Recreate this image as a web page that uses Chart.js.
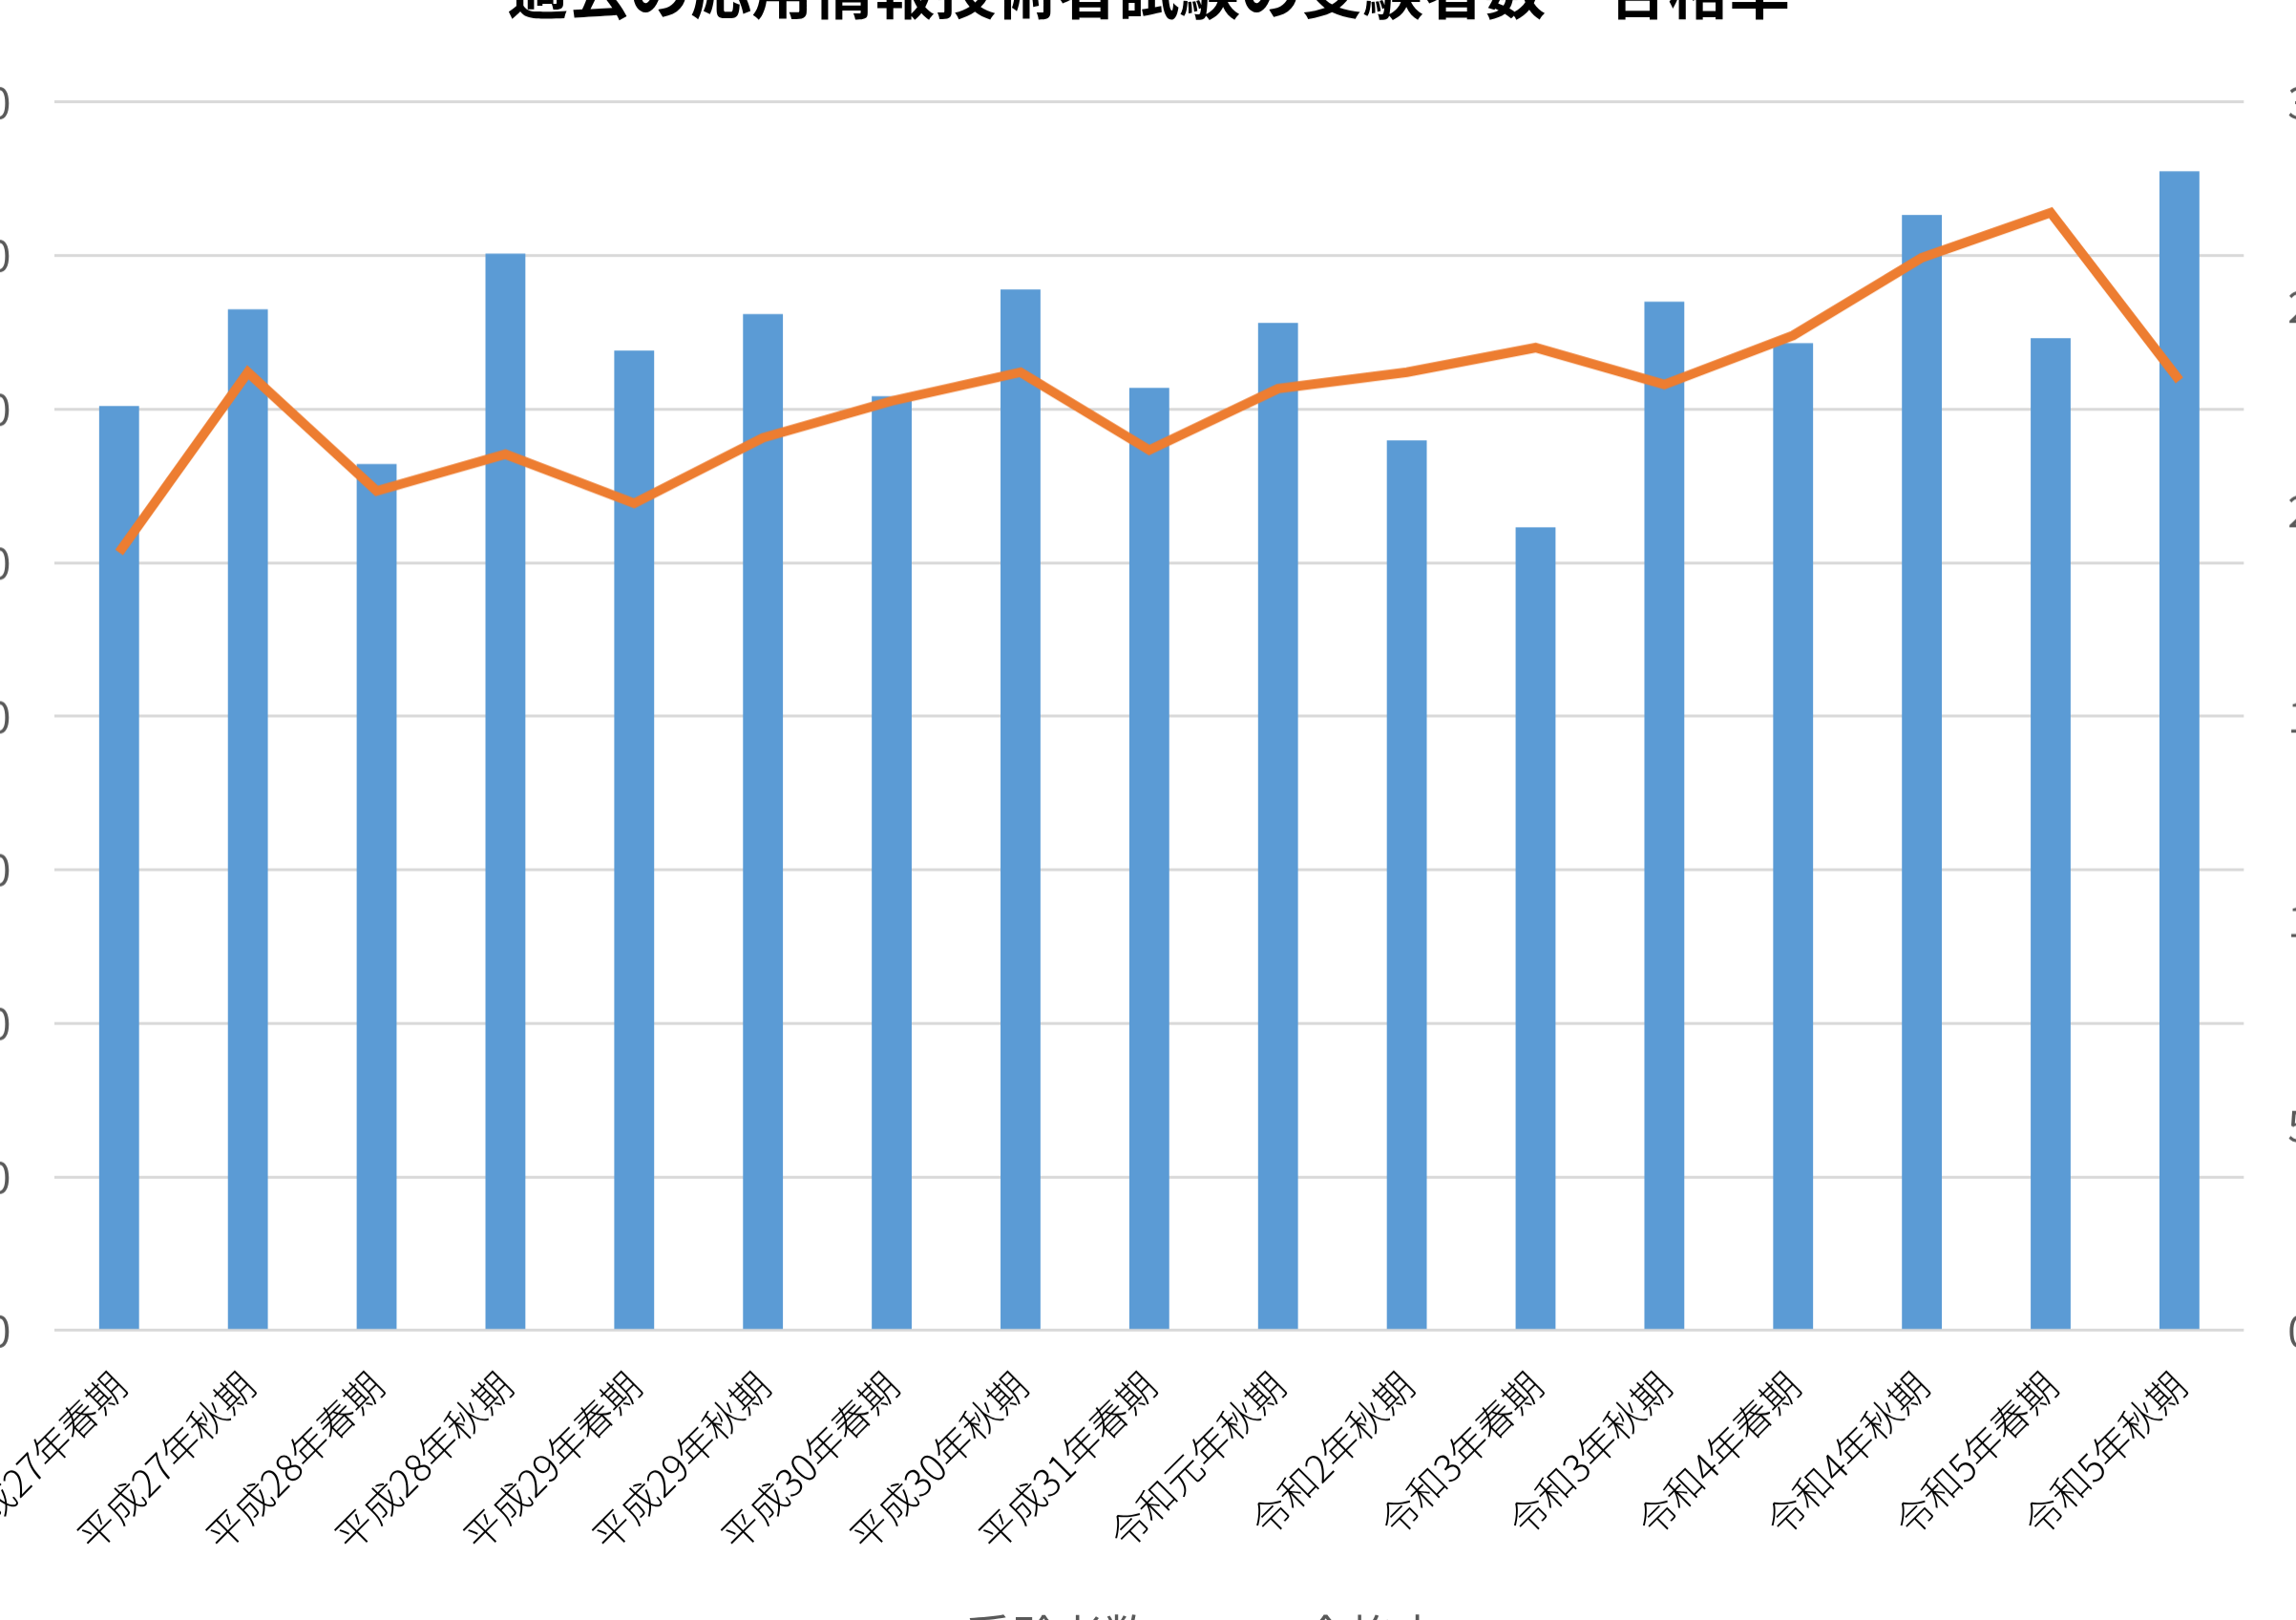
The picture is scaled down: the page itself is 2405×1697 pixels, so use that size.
<!DOCTYPE html>
<html lang="ja">
<head>
<meta charset="utf-8">
<title>過去の応用情報技術者試験の受験者数・合格率</title>
<script src="https://cdn.jsdelivr.net/npm/chart.js@4.4.1/dist/chart.umd.min.js"></script>
<style>
html, body { margin: 0; padding: 0; width: 2405px; height: 1697px; overflow: hidden; background: #fff; }
#wrap { position: absolute; left: 0; top: 0; width: 2700px; height: 1900px; }
</style>
</head>
<body>
<div id="wrap"><canvas id="chart"></canvas></div>
<script>
// 試験回
const periods = [
    '平成27年春期', '平成27年秋期', '平成28年春期', '平成28年秋期',
    '平成29年春期', '平成29年秋期', '平成30年春期', '平成30年秋期',
    '平成31年春期', '令和元年秋期', '令和2年秋期', '令和3年春期',
    '令和3年秋期', '令和4年春期', '令和4年秋期', '令和5年春期', '令和5年秋期'
];

// 受験者数 (人)
const examinees = [
    30100, 33250, 28210, 35060, 31910, 33100, 30420, 33900,
    30690, 32810, 28980, 26150, 33500, 32150, 36320, 32310, 37750
];

// 合格率 (%)
const passRate = [
    19.0, 23.4, 20.5, 21.4, 20.2, 21.8, 22.7, 23.4,
    21.5, 23.0, 23.4, 24.0, 23.1, 24.3, 26.2, 27.3, 23.2
];

// 軸の目盛り
const countMax = 40000;
const countStep = 5000;
const rateMax = 30;
const rateStep = 5;

const BLUE = '#5B9BD5';
const ORANGE = '#ED7D31';

const FONT = "'Noto Sans CJK JP', 'Noto Sans', sans-serif";
Chart.defaults.font.family = FONT;

// 凡例用の四角マーカー（線のマーカーだけ長くするため画像にする）
const legendBox = document.createElement('canvas');
legendBox.width = 30;
legendBox.height = 30;
const lctx = legendBox.getContext('2d');
lctx.fillStyle = BLUE;
lctx.fillRect(0, 0, legendBox.width, legendBox.height);

const canvas = document.getElementById('chart');
const wrap = document.getElementById('wrap');

const chart = new Chart(canvas, {
    data: {
        labels: periods,
        datasets: [
            {
                type: 'bar',
                label: '受験者数',
                data: examinees,
                backgroundColor: BLUE,
                yAxisID: 'y',
                order: 2,
                barPercentage: 0.31,
                categoryPercentage: 1,
                pointStyle: legendBox
            },
            {
                type: 'line',
                label: '合格率',
                data: passRate,
                borderColor: ORANGE,
                backgroundColor: ORANGE,
                borderWidth: 10,
                borderJoinStyle: 'miter',
                pointRadius: 0,
                tension: 0,
                yAxisID: 'y1',
                order: 1,
                pointStyle: 'line'
            }
        ]
    },
    options: {
        animation: false,
        responsive: true,
        maintainAspectRatio: false,
        layout: { padding: 0 },
        plugins: {
            title: {
                display: true,
                text: '過去の応用情報技術者試験の受験者数・合格率',
                color: '#000',
                font: { size: 64, weight: 'bold' },
                padding: { top: 0, bottom: 79 }
            },
            legend: {
                position: 'bottom',
                labels: {
                    color: '#595959',
                    font: { size: 48 },
                    usePointStyle: true,
                    pointStyleWidth: 90,
                    boxHeight: 30,
                    padding: 47,
                    sort: (a, b) => a.datasetIndex - b.datasetIndex
                }
            },
            tooltip: { enabled: false }
        },
        scales: {
            x: {
                offset: true,
                grid: { display: false, drawTicks: false },
                border: { display: false },
                ticks: {
                    color: '#000',
                    font: { size: 40, weight: 300 },
                    minRotation: 45,
                    maxRotation: 45,
                    autoSkip: false,
                    padding: 34
                },
                // 凡例の位置を参照に合わせるため軸の高さを固定
                afterFit: scale => { scale.height = 249; }
            },
            y: {
                position: 'left',
                min: 0,
                max: countMax,
                grid: { color: '#D9D9D9', lineWidth: 3, drawTicks: false },
                border: { display: false },
                ticks: {
                    stepSize: countStep,
                    color: '#595959',
                    font: { size: 44 },
                    padding: 46,
                    callback: v => v.toLocaleString('en-US')
                }
            },
            y1: {
                position: 'right',
                min: 0,
                max: rateMax,
                grid: { display: false, drawTicks: false },
                border: { display: false },
                ticks: {
                    stepSize: rateStep,
                    color: '#595959',
                    font: { size: 44 },
                    padding: 46,
                    callback: v => v + '%'
                },
                // タイトルの中心を少し右へ
                afterFit: scale => { scale.width += 44; }
            }
        }
    }
});

// プロット領域を参照画像と同じ位置・大きさに合わせる（周囲ははみ出して切れる）
const AREA = { left: 57, top: 107, right: 2350, bottom: 1393 };

function fitArea() {
    const a = chart.chartArea;
    const w = wrap.offsetWidth + (AREA.right - AREA.left) - (a.right - a.left);
    const h = wrap.offsetHeight + (AREA.bottom - AREA.top) - (a.bottom - a.top);
    wrap.style.width = w + 'px';
    wrap.style.height = h + 'px';
    chart.resize();
    const b = chart.chartArea;
    wrap.style.left = (AREA.left - b.left) + 'px';
    wrap.style.top = (AREA.top - b.top) + 'px';
}
fitArea();
</script>
</body>
</html>
